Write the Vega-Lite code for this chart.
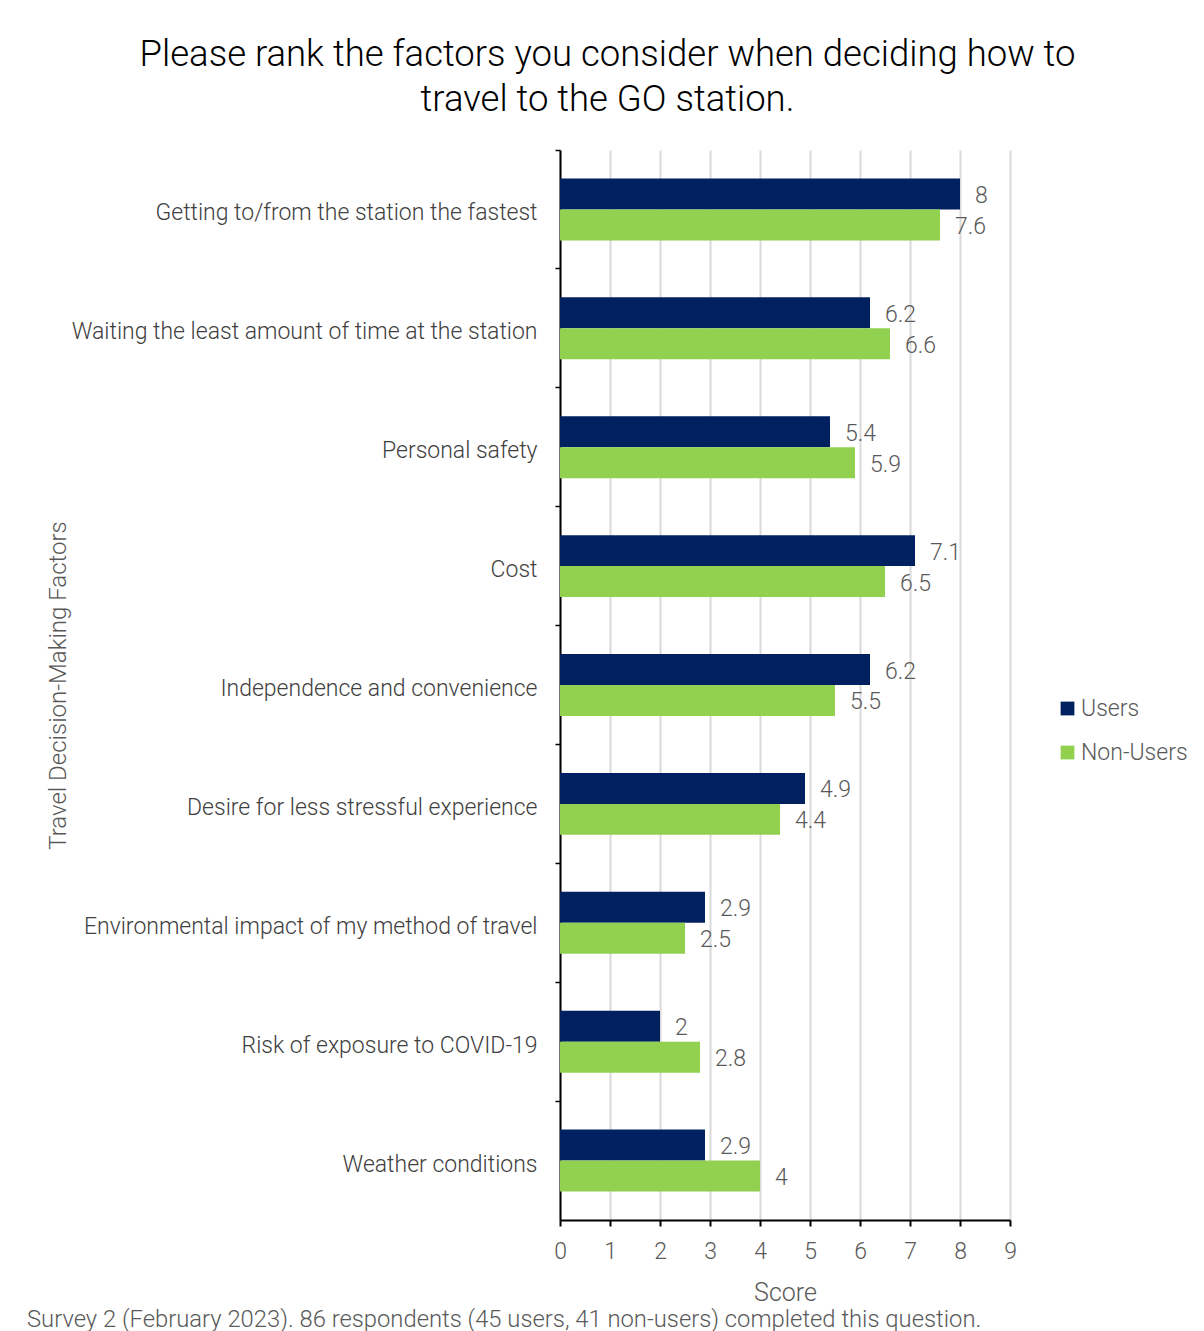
{
  "$schema": "https://vega.github.io/schema/vega-lite/v6.json",
  "padding": {"left": 27, "top": 36, "right": 10, "bottom": 0},
  "background": "white",
  "title": {
    "text": ["Please rank the factors you consider when deciding how to", "travel to the GO station."],
    "fontSize": 36.5,
    "font": "Roboto",
    "fontWeight": 300,
    "color": "#000000",
    "anchor": "middle",
    "frame": "bounds",
    "lineHeight": 45,
    "offset": 31
  },
  "config": {
    "font": "Roboto",
    "view": {"stroke": null}
  },
  "vconcat": [
    {
      "title": {
        "text": "Survey 2 (February 2023). 86 respondents (45 users, 41 non-users) completed this question.",
        "orient": "bottom",
        "anchor": "start",
        "frame": "bounds",
        "fontSize": 23.8,
        "font": "Roboto",
        "fontWeight": 300,
        "color": "#595959",
        "dx": -19,
        "offset": 3
      },
      "width": 450,
      "height": 1070,
      "data": {
        "values": [
          {"factor": "Getting to/from the station the fastest", "group": "Users", "score": 8},
          {"factor": "Getting to/from the station the fastest", "group": "Non-Users", "score": 7.6},
          {"factor": "Waiting the least amount of time at the station", "group": "Users", "score": 6.2},
          {"factor": "Waiting the least amount of time at the station", "group": "Non-Users", "score": 6.6},
          {"factor": "Personal safety", "group": "Users", "score": 5.4},
          {"factor": "Personal safety", "group": "Non-Users", "score": 5.9},
          {"factor": "Cost", "group": "Users", "score": 7.1},
          {"factor": "Cost", "group": "Non-Users", "score": 6.5},
          {"factor": "Independence and convenience", "group": "Users", "score": 6.2},
          {"factor": "Independence and convenience", "group": "Non-Users", "score": 5.5},
          {"factor": "Desire for less stressful experience", "group": "Users", "score": 4.9},
          {"factor": "Desire for less stressful experience", "group": "Non-Users", "score": 4.4},
          {"factor": "Environmental impact of my method of travel", "group": "Users", "score": 2.9},
          {"factor": "Environmental impact of my method of travel", "group": "Non-Users", "score": 2.5},
          {"factor": "Risk of exposure to COVID-19", "group": "Users", "score": 2},
          {"factor": "Risk of exposure to COVID-19", "group": "Non-Users", "score": 2.8},
          {"factor": "Weather conditions", "group": "Users", "score": 2.9},
          {"factor": "Weather conditions", "group": "Non-Users", "score": 4}
        ]
      },
      "encoding": {
        "y": {
          "field": "factor",
          "type": "nominal",
          "sort": null,
          "scale": {"paddingInner": 0, "paddingOuter": 0},
          "axis": {
            "title": "Travel Decision-Making Factors",
            "titleFontSize": 24,
            "titleFontWeight": 300,
            "titleColor": "#595959",
            "titleX": -502,
            "titleBaseline": "middle",
            "labelFontSize": 23,
            "labelFontWeight": 300,
            "labelColor": "#404040",
            "labelPadding": 18,
            "labelLimit": 600,
            "labelOffset": 4,
            "bandPosition": 0,
            "tickColor": "#000000",
            "tickSize": 5,
            "tickWidth": 1.5,
            "domainColor": "#000000",
            "domainWidth": 2,
            "grid": false
          }
        },
        "yOffset": {
          "field": "group",
          "type": "nominal",
          "sort": ["Users", "Non-Users"],
          "scale": {"paddingInner": 0, "paddingOuter": 0.92}
        },
        "x": {
          "field": "score",
          "type": "quantitative",
          "scale": {"domain": [0, 9], "nice": false},
          "axis": {
            "title": "Score",
            "titleFontSize": 25,
            "titleFontWeight": 300,
            "titleColor": "#595959",
            "titlePadding": 17,
            "labelFontSize": 23,
            "labelFontWeight": 300,
            "labelColor": "#595959",
            "labelPadding": 14,
            "labelOverlap": false,
            "labelFlush": false,
            "values": [0, 1, 2, 3, 4, 5, 6, 7, 8, 9],
            "tickColor": "#000000",
            "tickSize": 6,
            "tickWidth": 2,
            "domainColor": "#000000",
            "domainWidth": 2,
            "grid": true,
            "gridColor": "#d9d9d9",
            "gridWidth": 2
          }
        }
      },
      "layer": [
        {
          "mark": {"type": "bar"},
          "encoding": {
            "color": {
              "field": "group",
              "type": "nominal",
              "sort": ["Users", "Non-Users"],
              "scale": {"domain": ["Users", "Non-Users"], "range": ["#002060", "#92d050"]},
              "legend": {
                "title": null,
                "orient": "none",
                "legendX": 496,
                "legendY": 547,
                "symbolType": "square",
                "symbolSize": 190,
                "symbolStrokeWidth": 0,
                "labelFontSize": 23,
                "labelFontWeight": 300,
                "labelColor": "#595959",
                "labelOffset": 2,
                "rowPadding": 20
              }
            }
          }
        },
        {
          "mark": {"type": "text", "align": "left", "baseline": "middle", "dx": 15, "dy": 2, "fontSize": 23, "fontWeight": 300, "color": "#595959"},
          "encoding": {
            "text": {"field": "score", "type": "quantitative"}
          }
        }
      ]
    }
  ]
}
